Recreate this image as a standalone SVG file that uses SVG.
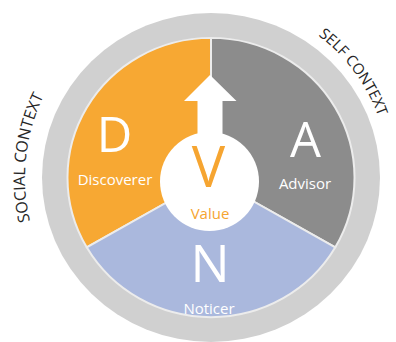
<svg xmlns="http://www.w3.org/2000/svg" width="396" height="342" viewBox="0 0 396 342">
  <style>
    .ring { fill: #d0d0d0; }
    .edge { stroke: #ececec; stroke-width: 2; stroke-linejoin: round; }
    .big { font-family: "Open Sans", "Liberation Sans", sans-serif; fill: #ffffff; text-anchor: middle; }
    .small { font-family: "Open Sans", "Liberation Sans", sans-serif; font-size: 15px; fill: #ffffff; text-anchor: middle; }
    .ctx { font-family: "Open Sans", "Liberation Sans", sans-serif; font-size: 16px; fill: #262626; }
    .gold { fill: #f6a531; }
  </style>
  <defs>
    <path id="arcSocial" d="M101.1,327.6 A186,186 0 0 1 135.9,7.3" fill="none"/>
    <path id="arcSelf" d="M190.9,0.6 A178,178 0 0 1 374.2,248.5" fill="none"/>
  </defs>

  <rect width="396" height="342" fill="#ffffff"/>

  <!-- outer context ring -->
  <g id="context-ring" transform="translate(211,177.5) scale(1,0.973)">
    <circle class="ring" r="169"/>
  </g>

  <!-- three sectors of the disk -->
  <g transform="translate(211,177.5) scale(1,0.973)">
    <g id="node-discoverer">
      <path class="edge" fill="#f7a833" d="M0,0 L0,-143.5 A143.5,143.5 0 0 0 -124.3,71.75 Z"/>
    </g>
    <g id="node-advisor">
      <path class="edge" fill="#8c8c8c" d="M0,0 L0,-143.5 A143.5,143.5 0 0 1 124.3,71.75 Z"/>
    </g>
    <g id="node-noticer">
      <path class="edge" fill="#aab8dd" d="M0,0 L124.3,71.75 A143.5,143.5 0 0 1 -124.3,71.75 Z"/>
    </g>
  </g>

  <!-- upward arrow from the centre -->
  <g id="connectors">
    <polygon fill="#ffffff" points="210,75 236.5,101 222.5,101 222.5,150 197.5,150 197.5,101 184,101"/>
  </g>

  <!-- centre value circle -->
  <g id="node-value">
    <circle cx="209.5" cy="181.5" r="49.5" fill="#ffffff"/>
    <text class="big gold" x="208.5" y="187" font-size="56">V</text>
    <text class="small gold" x="210" y="219">Value</text>
  </g>

  <!-- sector labels -->
  <g id="label-discoverer">
    <text class="big" x="114.5" y="152" font-size="49">D</text>
    <text class="small" x="115" y="185">Discoverer</text>
  </g>
  <g id="label-advisor">
    <text class="big" x="305.5" y="157" font-size="49">A</text>
    <text class="small" x="305" y="189">Advisor</text>
  </g>
  <g id="label-noticer">
    <text class="big" x="210" y="282" font-size="52">N</text>
    <text class="small" x="209" y="314">Noticer</text>
  </g>

  <!-- curved context captions -->
  <g id="label-social">
    <text class="ctx"><textPath href="#arcSocial" startOffset="50%" text-anchor="middle">SOCIAL CONTEXT</textPath></text>
  </g>
  <g id="label-self">
    <text class="ctx" style="font-size:15px"><textPath href="#arcSelf" startOffset="50%" text-anchor="middle">SELF CONTEXT</textPath></text>
  </g>
</svg>
